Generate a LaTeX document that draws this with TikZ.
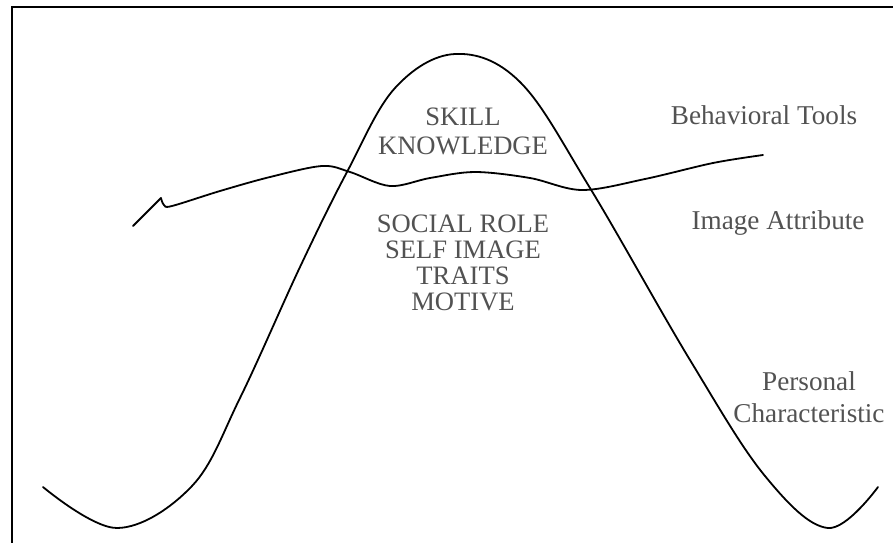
\documentclass[tikz,border=0pt]{standalone}
\usepackage{fontspec}
\setmainfont{Liberation Serif}

\begin{document}
\begin{tikzpicture}[x=1pt,y=-1pt,
		curve/.style={line width=1.8pt, line join=round, line cap=round},
		lbl/.style={text=black!68, inner sep=0pt, align=center, anchor=base,
			font=\fontsize{26.6}{26}\selectfont}]
		%%%%% START %%%%%
		
		\useasboundingbox (0,0) rectangle (893,542);
		\draw[line width=2.4pt] (12,546) -- (12,7) -- (897,7);
		
		% the big hill
		\draw[curve] plot[smooth, tension=0.6] coordinates {
			(43,487) (117,528) (192,486) (240,398) (300,267) (347,172) (395,88)
			(455,54) (520,82) (590,188) (690,360) (765,476) (828,528) (878,487)};
		
		% the wavy line
		\draw[curve] (133,226) -- (161,198);
		\draw[curve] plot[smooth, tension=0.55] coordinates {
			(161,198) (164,205) (172,206) (220,191) (270,177) (322,166)
			(350,172) (390,186) (430,178) (475,172) (530,178)
			(582,190) (645,179) (713,163) (763,155)};
		
		\node[lbl, font=\fontsize{26.6}{29}\selectfont] (skill) at (463,154) {SKILL\\KNOWLEDGE};
		\node[lbl] (role) at (463,310) {SOCIAL ROLE\\SELF IMAGE\\TRAITS\\MOTIVE};
		
		\node[lbl, font=\fontsize{27.2}{27}\selectfont] (tools) at (764,124) {Behavioral Tools};
		\node[lbl, font=\fontsize{27.2}{27}\selectfont] (image) at (778,229) {Image Attribute};
		\node[lbl, font=\fontsize{27.2}{32}\selectfont] (personal) at (809,422) {Personal\\Characteristic};
		
		%%%%% END %%%%%
	\end{tikzpicture}
\end{document}
